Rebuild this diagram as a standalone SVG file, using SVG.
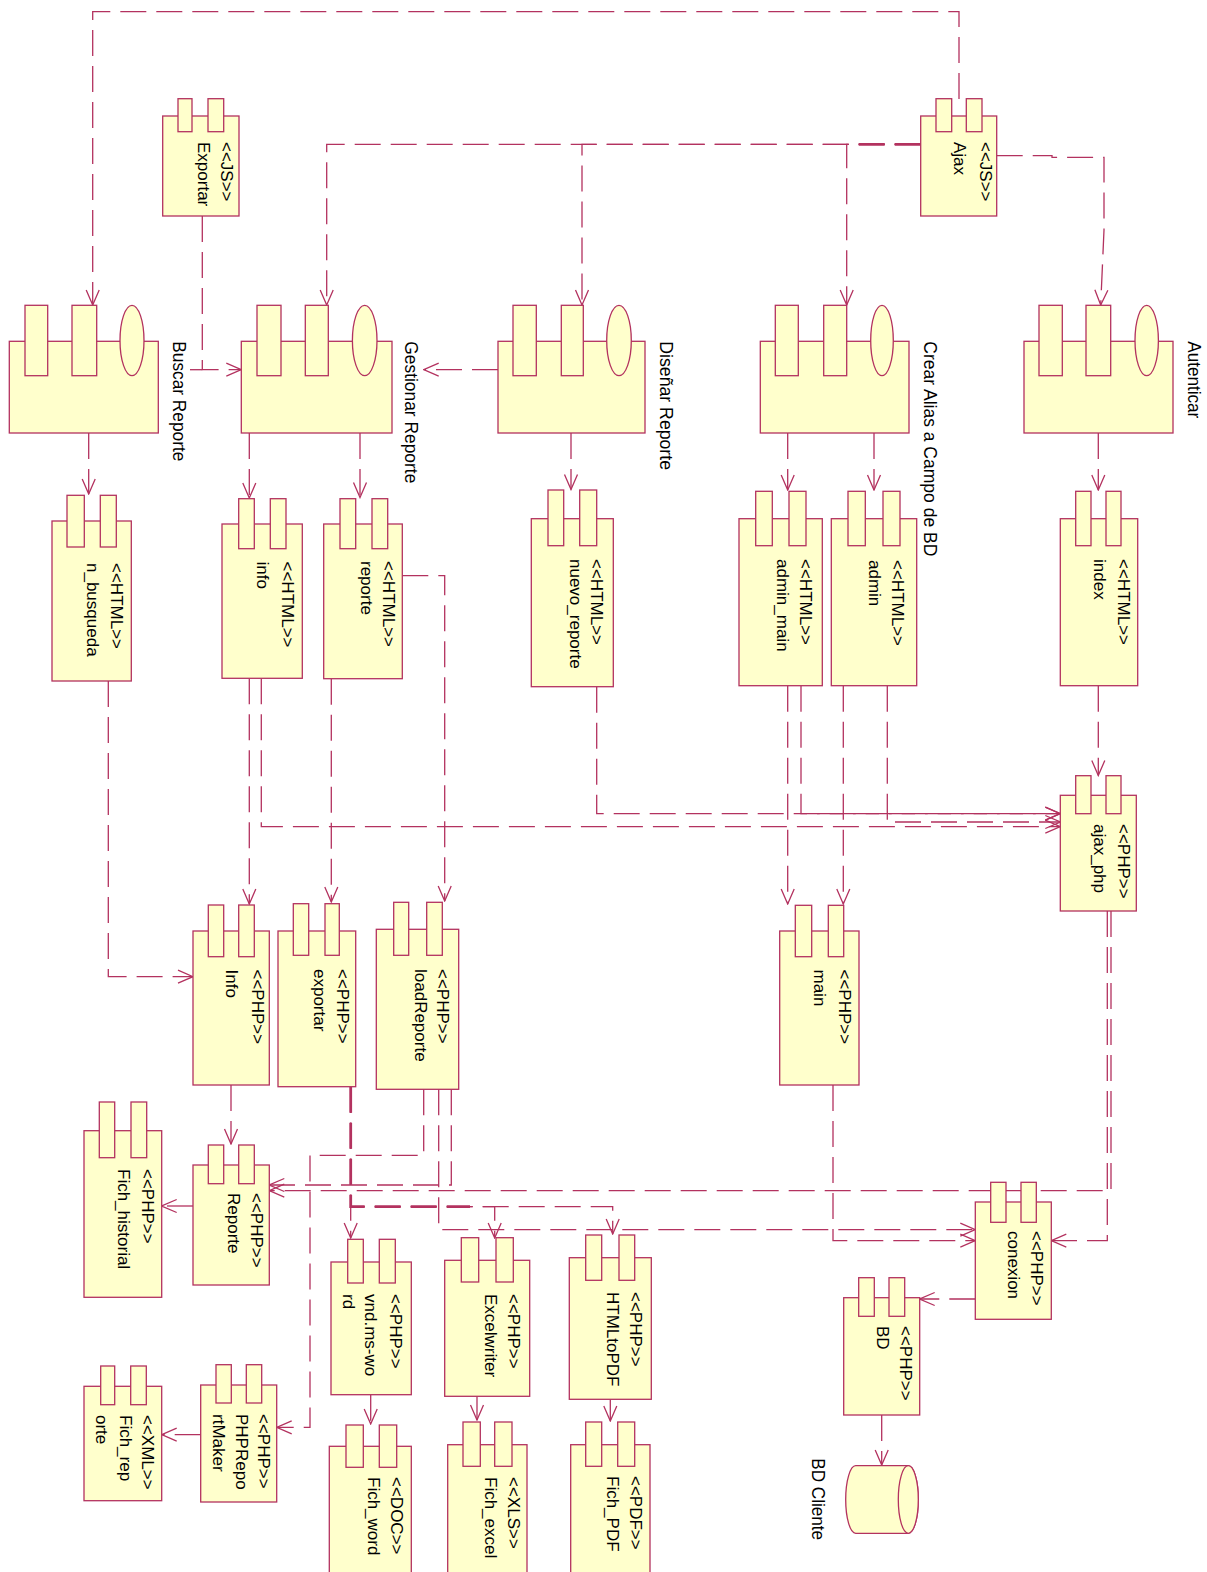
<svg xmlns="http://www.w3.org/2000/svg" width="1207" height="1572" viewBox="0 0 1207 1572">
<style>
.b{fill:#FFFFCC;stroke:#B3325F;stroke-width:1.3}
.t{font-family:"Liberation Sans",Arial,sans-serif;font-size:17px;fill:#000}
.l{font-family:"Liberation Sans",Arial,sans-serif;font-size:18.5px;fill:#000}
.d{fill:none;stroke:#B3325F;stroke-width:1.3;stroke-dasharray:26 10;marker-end:url(#a)}
.n{fill:none;stroke:#B3325F;stroke-width:1.3;stroke-dasharray:26 10}
.k{fill:none;stroke:#B3325F;stroke-width:2.8;stroke-dasharray:26 10}
</style>
<defs>
<marker id="a" markerUnits="userSpaceOnUse" viewBox="-17 -8 18 16" refX="0" refY="0" markerWidth="18" markerHeight="16" orient="auto">
<path d="M-15,-6.5 L0,0 L-15,6.5" fill="none" stroke="#B3325F" stroke-width="1.3"/>
</marker>
</defs>
<rect width="1207" height="1572" fill="#fff"/>

<g id="connectors">
<path class="d" d="M959,99 V11.7 H92.7 V305"/>
<path class="d" d="M920.7,144.3 H326.7 V305"/>
<path class="d" d="M920.7,144.3 H582 V305"/>
<path class="d" d="M920.7,144.3 H846.7 V305"/>
<path class="k" d="M920.7,144.3 H857"/>
<path class="d" d="M996.7,155.7 H1052 V157.3 H1104 V230 L1100.7,305"/>
<path class="d" d="M202.3,216 V369.7 H241.3"/>
<path class="n" d="M190,369.7 H202.3"/>
<path class="d" d="M498,369.7 H423.7"/>
<path class="d" d="M88.7,433 V494"/>
<path class="d" d="M249.3,433 V498"/>
<path class="d" d="M360,433 V497.5"/>
<path class="d" d="M571,433 V489.5"/>
<path class="d" d="M787.7,433 V490"/>
<path class="d" d="M874,433 V490"/>
<path class="d" d="M1098.3,433 V490"/>
<path class="d" d="M1098.3,685.7 V775.5"/>
<path class="d" d="M108.3,681 V976.7 H193"/>
<path class="d" d="M249.3,678.3 V904"/>
<path class="d" d="M261.3,678.3 V826.7 H1060.3"/>
<path class="d" d="M331.3,678.7 V902"/>
<path class="d" d="M402.3,575.7 H444.7 V901"/>
<path class="d" d="M596.7,686.7 V813.7 H1060.3"/>
<path class="d" d="M787.7,685.7 V904"/>
<path class="d" d="M801,685.7 V813.7 H1060.3"/>
<path class="d" d="M843.3,685.7 V904"/>
<path class="d" d="M887.3,685.7 V822 H1060.3"/>
<path class="d" d="M1107.3,911 V1240.7 H1051.3"/>
<path class="d" d="M1111,911 V1190.7 H269.3"/>
<path class="d" d="M833,1085 V1240.7 H975.3"/>
<path class="d" d="M231,1085 V1144"/>
<path class="d" d="M193,1206 H161.7"/>
<path class="d" d="M423.7,1089.3 V1155.3 H310 V1427.3 H276.7"/>
<path class="d" d="M451.3,1089.3 V1185 H269.3"/>
<path class="d" d="M438.7,1089.3 V1229.7 H975.3"/>
<path class="d" d="M350.7,1086.7 V1238"/>
<path class="d" d="M350.7,1086.7 V1206.7 H494.7 V1238"/>
<path class="d" d="M350.7,1086.7 V1206.7 H612.7 V1234"/>
<path class="k" d="M350.7,1086.7 V1206.7 H470"/>
<path class="d" d="M200.7,1434.7 H161.7"/>
<path class="d" d="M370.7,1394.7 V1424"/>
<path class="d" d="M477,1396.3 V1420"/>
<path class="d" d="M610.3,1399.3 V1421"/>
<path class="d" d="M975.3,1299 H919.7"/>
<path class="d" d="M881.7,1415 V1465"/>
</g>

<g id="Exportar"><rect class="b" x="162.7" y="116" width="76.3" height="100"/><rect class="b" x="178" y="98.7" width="14" height="33"/><rect class="b" x="208" y="98.7" width="15.7" height="33"/>
<text class="t" transform="translate(220.5,142) rotate(90)"><tspan x="0" y="0">&lt;&lt;JS&gt;&gt;</tspan><tspan x="0" y="22.5">Exportar</tspan></text></g>
<g id="Ajax"><rect class="b" x="920.7" y="116" width="76" height="100"/><rect class="b" x="936" y="98.7" width="15.7" height="33"/><rect class="b" x="966.3" y="98.7" width="15.7" height="33"/>
<text class="t" transform="translate(979.5,142) rotate(90)"><tspan x="0" y="0">&lt;&lt;JS&gt;&gt;</tspan><tspan x="0" y="25.5">Ajax</tspan></text></g>

<g id="BuscarReporte"><rect class="b" x="9.3" y="341.3" width="149" height="91.7"/><rect class="b" x="25" y="305.3" width="22.7" height="70.4"/><rect class="b" x="72" y="305.3" width="24.7" height="70.4"/><ellipse class="b" cx="132" cy="340.5" rx="12" ry="35.2"/>
<text class="l" transform="translate(173,341.3) rotate(90)" textLength="120" lengthAdjust="spacingAndGlyphs">Buscar Reporte</text></g>
<g id="GestionarReporte"><rect class="b" x="241.3" y="341.3" width="150.7" height="91.7"/><rect class="b" x="257" y="305.3" width="24" height="70.4"/><rect class="b" x="305.3" y="305.3" width="23" height="70.4"/><ellipse class="b" cx="364.7" cy="340.5" rx="12.3" ry="35.2"/>
<text class="l" transform="translate(404.5,341.3) rotate(90)" textLength="142" lengthAdjust="spacingAndGlyphs">Gestionar Reporte</text></g>
<g id="DisenarReporte"><rect class="b" x="498" y="341.3" width="147" height="91.7"/><rect class="b" x="513" y="305.3" width="23.3" height="70.4"/><rect class="b" x="561.3" y="305.3" width="22" height="70.4"/><ellipse class="b" cx="619" cy="340.5" rx="12.3" ry="35.2"/>
<text class="l" transform="translate(659.5,341.3) rotate(90)" textLength="128.7" lengthAdjust="spacingAndGlyphs">Diseñar Reporte</text></g>
<g id="CrearAlias"><rect class="b" x="760.3" y="341.3" width="148.7" height="91.7"/><rect class="b" x="775.3" y="305.3" width="23" height="70.4"/><rect class="b" x="823.7" y="305.3" width="23" height="70.4"/><ellipse class="b" cx="882" cy="340.5" rx="11.3" ry="35.2"/>
<text class="l" transform="translate(923.5,341.3) rotate(90)" textLength="215" lengthAdjust="spacingAndGlyphs">Crear Alias a Campo de BD</text></g>
<g id="Autenticar"><rect class="b" x="1024" y="341.3" width="149" height="91.7"/><rect class="b" x="1039" y="305.3" width="23.3" height="70.4"/><rect class="b" x="1086" y="305.3" width="24.7" height="70.4"/><ellipse class="b" cx="1146.7" cy="340.5" rx="11.7" ry="35.2"/>
<text class="l" transform="translate(1188,341.3) rotate(90)" textLength="77" lengthAdjust="spacingAndGlyphs">Autenticar</text></g>

<g id="n_busqueda"><rect class="b" x="52" y="521" width="79.3" height="160"/><rect class="b" x="67" y="495.3" width="17.3" height="51.7"/><rect class="b" x="100.3" y="495.3" width="16" height="51.7"/>
<text class="t" transform="translate(111,563) rotate(90)"><tspan x="0" y="0">&lt;&lt;HTML&gt;&gt;</tspan><tspan x="0" y="24.5">n_busqueda</tspan></text></g>
<g id="info"><rect class="b" x="222" y="524" width="80.3" height="154.3"/><rect class="b" x="238.7" y="498.7" width="15.6" height="50"/><rect class="b" x="270.3" y="498.7" width="15.7" height="50"/>
<text class="t" transform="translate(281.5,561.5) rotate(90)"><tspan x="0" y="0">&lt;&lt;HTML&gt;&gt;</tspan><tspan x="0" y="24.5">info</tspan></text></g>
<g id="reporte"><rect class="b" x="323.7" y="524" width="78.6" height="154.7"/><rect class="b" x="340" y="498.7" width="15.7" height="50"/><rect class="b" x="372" y="498.7" width="15.7" height="50"/>
<text class="t" transform="translate(383,561) rotate(90)"><tspan x="0" y="0">&lt;&lt;HTML&gt;&gt;</tspan><tspan x="0" y="22.5">reporte</tspan></text></g>
<g id="nuevo_reporte"><rect class="b" x="531.3" y="518.7" width="82" height="168"/><rect class="b" x="548" y="490" width="15.7" height="55.7"/><rect class="b" x="579.7" y="490" width="17" height="55.7"/>
<text class="t" transform="translate(590.5,559) rotate(90)"><tspan x="0" y="0">&lt;&lt;HTML&gt;&gt;</tspan><tspan x="0" y="20.5">nuevo_reporte</tspan></text></g>
<g id="admin_main"><rect class="b" x="739" y="518.7" width="83.3" height="167"/><rect class="b" x="755.7" y="491.3" width="16.6" height="54.4"/><rect class="b" x="789" y="491.3" width="17" height="54.4"/>
<text class="t" transform="translate(800,559) rotate(90)"><tspan x="0" y="0">&lt;&lt;HTML&gt;&gt;</tspan><tspan x="0" y="23.5">admin_main</tspan></text></g>
<g id="admin"><rect class="b" x="831.3" y="518.7" width="85.4" height="167"/><rect class="b" x="848" y="491.3" width="17.3" height="54.4"/><rect class="b" x="883" y="491.3" width="17" height="54.4"/>
<text class="t" transform="translate(892,560) rotate(90)"><tspan x="0" y="0">&lt;&lt;HTML&gt;&gt;</tspan><tspan x="0" y="23.5">admin</tspan></text></g>
<g id="index"><rect class="b" x="1060.3" y="518.7" width="77.4" height="167"/><rect class="b" x="1075.7" y="491.3" width="15.3" height="54.4"/><rect class="b" x="1106" y="491.3" width="15" height="54.4"/>
<text class="t" transform="translate(1117.5,559) rotate(90)"><tspan x="0" y="0">&lt;&lt;HTML&gt;&gt;</tspan><tspan x="0" y="24">index</tspan></text></g>
<g id="ajax_php"><rect class="b" x="1060.3" y="795.3" width="76" height="115.7"/><rect class="b" x="1075.7" y="775.7" width="15.3" height="38"/><rect class="b" x="1106" y="775.7" width="15" height="38"/>
<text class="t" transform="translate(1117.5,824) rotate(90)"><tspan x="0" y="0">&lt;&lt;PHP&gt;&gt;</tspan><tspan x="0" y="24">ajax_php</tspan></text></g>
<g id="main"><rect class="b" x="779.7" y="931" width="79.3" height="154"/><rect class="b" x="795.3" y="905.3" width="16.4" height="51.4"/><rect class="b" x="828.3" y="905.3" width="15.4" height="51.4"/>
<text class="t" transform="translate(838.5,969.5) rotate(90)"><tspan x="0" y="0">&lt;&lt;PHP&gt;&gt;</tspan><tspan x="0" y="24.5">main</tspan></text></g>
<g id="Info"><rect class="b" x="193" y="931" width="76.3" height="154"/><rect class="b" x="208.3" y="905" width="15.4" height="51.7"/><rect class="b" x="238.7" y="905" width="15.6" height="51.7"/>
<text class="t" transform="translate(251.5,969.5) rotate(90)"><tspan x="0" y="0">&lt;&lt;PHP&gt;&gt;</tspan><tspan x="0" y="26">Info</tspan></text></g>
<g id="exportar"><rect class="b" x="278" y="931" width="77.7" height="155.7"/><rect class="b" x="293.3" y="903.7" width="15.4" height="51.6"/><rect class="b" x="325" y="903.7" width="14.3" height="51.6"/>
<text class="t" transform="translate(336.5,969) rotate(90)"><tspan x="0" y="0">&lt;&lt;PHP&gt;&gt;</tspan><tspan x="0" y="23">exportar</tspan></text></g>
<g id="loadReporte"><rect class="b" x="376.3" y="929.3" width="82.4" height="160"/><rect class="b" x="393.7" y="902.3" width="15" height="53"/><rect class="b" x="426.7" y="902.3" width="15.6" height="53"/>
<text class="t" transform="translate(437,969) rotate(90)"><tspan x="0" y="0">&lt;&lt;PHP&gt;&gt;</tspan><tspan x="0" y="22">loadReporte</tspan></text></g>
<g id="Fich_historial"><rect class="b" x="84" y="1130.7" width="77.7" height="166.6"/><rect class="b" x="99.3" y="1102" width="15.4" height="55.7"/><rect class="b" x="131" y="1102" width="15.7" height="55.7"/>
<text class="t" transform="translate(141.7,1169) rotate(90)"><tspan x="0" y="0">&lt;&lt;PHP&gt;&gt;</tspan><tspan x="0" y="23.7">Fich_historial</tspan></text></g>
<g id="Reporte"><rect class="b" x="193" y="1165" width="76.3" height="120"/><rect class="b" x="208.3" y="1145" width="15.4" height="38.7"/><rect class="b" x="238.7" y="1145" width="15.6" height="38.7"/>
<text class="t" transform="translate(251,1193) rotate(90)"><tspan x="0" y="0">&lt;&lt;PHP&gt;&gt;</tspan><tspan x="0" y="23">Reporte</tspan></text></g>
<g id="vnd_ms_word"><rect class="b" x="331" y="1262" width="80.3" height="132.7"/><rect class="b" x="347.7" y="1239.3" width="15.6" height="43.7"/><rect class="b" x="379.3" y="1239.3" width="16" height="43.7"/>
<text class="t" transform="translate(390,1294) rotate(90)"><tspan x="0" y="0">&lt;&lt;PHP&gt;&gt;</tspan><tspan x="0" y="25">vnd.ms-wo</tspan><tspan x="0" y="47">rd</tspan></text></g>
<g id="PHPReportMaker"><rect class="b" x="200.7" y="1385" width="76" height="117"/><rect class="b" x="216" y="1364.7" width="15.3" height="38.3"/><rect class="b" x="246.3" y="1364.7" width="15.4" height="38.3"/>
<text class="t" transform="translate(258,1414) rotate(90)"><tspan x="0" y="0">&lt;&lt;PHP&gt;&gt;</tspan><tspan x="0" y="22">PHPRepo</tspan><tspan x="0" y="45">rtMaker</tspan></text></g>
<g id="Fich_reporte"><rect class="b" x="84" y="1386.3" width="77.7" height="114.4"/><rect class="b" x="100.7" y="1366" width="14" height="38.7"/><rect class="b" x="130.7" y="1366" width="15.6" height="38.7"/>
<text class="t" transform="translate(141.5,1415) rotate(90)"><tspan x="0" y="0">&lt;&lt;XML&gt;&gt;</tspan><tspan x="0" y="22">Fich_rep</tspan><tspan x="0" y="46">orte</tspan></text></g>
<g id="Fich_word"><rect class="b" x="329.3" y="1446.3" width="82" height="140"/><rect class="b" x="346" y="1425" width="17.3" height="42.3"/><rect class="b" x="379.3" y="1425" width="17.4" height="42.3"/>
<text class="t" transform="translate(390.5,1477) rotate(90)"><tspan x="0" y="0">&lt;&lt;DOC&gt;&gt;</tspan><tspan x="0" y="22.5">Fich_word</tspan></text></g>
<g id="Excelwriter"><rect class="b" x="444.7" y="1260.3" width="85" height="136"/><rect class="b" x="461.3" y="1237.7" width="17.4" height="44.3"/><rect class="b" x="496" y="1237.7" width="17.3" height="44.3"/>
<text class="t" transform="translate(507.5,1294) rotate(90)"><tspan x="0" y="0">&lt;&lt;PHP&gt;&gt;</tspan><tspan x="0" y="22.5">Excelwriter</tspan></text></g>
<g id="Fich_excel"><rect class="b" x="447.7" y="1444.7" width="79.3" height="140"/><rect class="b" x="463" y="1422" width="17.3" height="44.3"/><rect class="b" x="494.7" y="1422" width="17.3" height="44.3"/>
<text class="t" transform="translate(507.5,1477) rotate(90)"><tspan x="0" y="0">&lt;&lt;XLS&gt;&gt;</tspan><tspan x="0" y="22.5">Fich_excel</tspan></text></g>
<g id="HTMLtoPDF"><rect class="b" x="569.3" y="1257.7" width="82" height="141.6"/><rect class="b" x="585.7" y="1235" width="16" height="45.3"/><rect class="b" x="619" y="1235" width="15.7" height="45.3"/>
<text class="t" transform="translate(630,1292) rotate(90)"><tspan x="0" y="0">&lt;&lt;PHP&gt;&gt;</tspan><tspan x="0" y="23">HTMLtoPDF</tspan></text></g>
<g id="Fich_PDF"><rect class="b" x="570.7" y="1444.7" width="79.3" height="140"/><rect class="b" x="585.7" y="1422" width="16" height="44.3"/><rect class="b" x="617.7" y="1422" width="17" height="44.3"/>
<text class="t" transform="translate(630,1476) rotate(90)"><tspan x="0" y="0">&lt;&lt;PDF&gt;&gt;</tspan><tspan x="0" y="23">Fich_PDF</tspan></text></g>
<g id="conexion"><rect class="b" x="975.3" y="1202" width="76" height="117.3"/><rect class="b" x="990.7" y="1182.3" width="15.3" height="40"/><rect class="b" x="1021" y="1182.3" width="15.3" height="40"/>
<text class="t" transform="translate(1031,1231) rotate(90)"><tspan x="0" y="0">&lt;&lt;PHP&gt;&gt;</tspan><tspan x="0" y="23.5">conexion</tspan></text></g>
<g id="BD"><rect class="b" x="843.7" y="1297.7" width="76" height="117.3"/><rect class="b" x="858.7" y="1277.7" width="15.6" height="38.6"/><rect class="b" x="889" y="1277.7" width="15.7" height="38.6"/>
<text class="t" transform="translate(899.5,1326) rotate(90)"><tspan x="0" y="0">&lt;&lt;PHP&gt;&gt;</tspan><tspan x="0" y="22.5">BD</tspan></text></g>
<g id="BDCliente"><path class="b" d="M855.7,1465.7 H908.3 A10,33.8 0 0 1 908.3,1533.3 H855.7 A10,33.8 0 0 1 855.7,1465.7 Z"/><ellipse class="b" cx="908.3" cy="1499.5" rx="10" ry="33.8"/>
<text class="l" transform="translate(811.5,1458.3) rotate(90)" textLength="81.7" lengthAdjust="spacingAndGlyphs">BD Cliente</text></g>
</svg>
